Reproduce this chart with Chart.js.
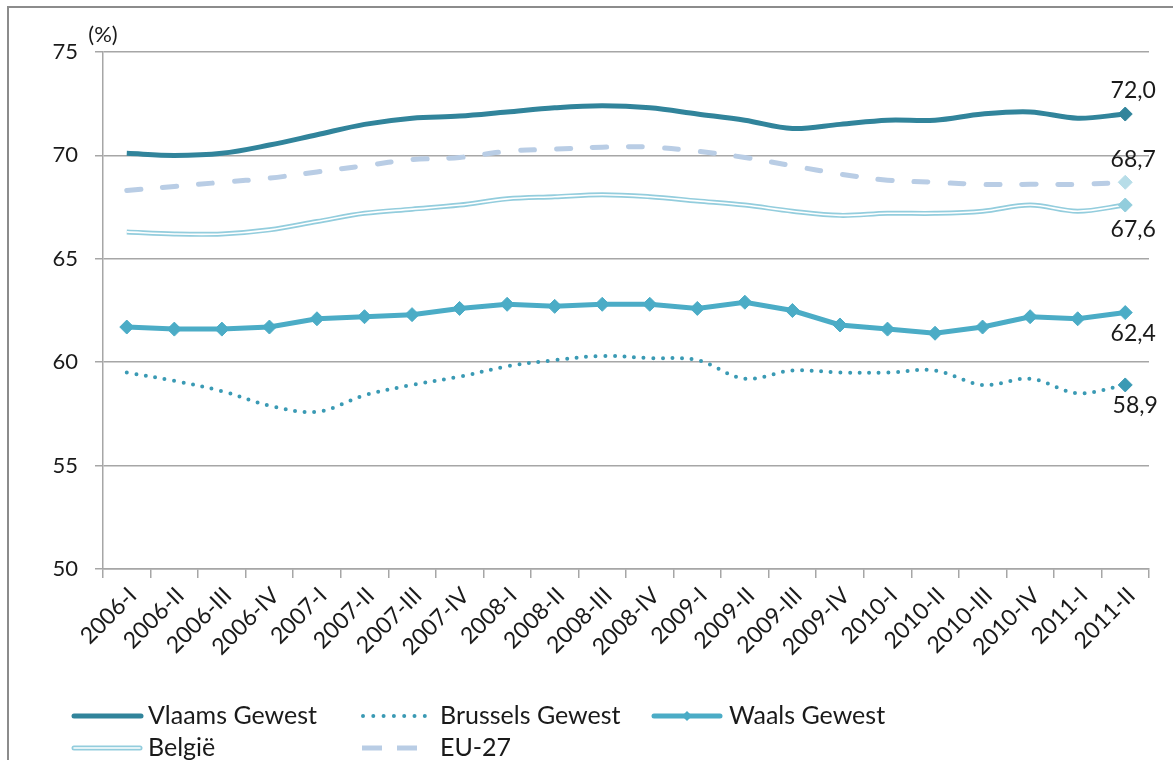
<!DOCTYPE html>
<html><head><meta charset="utf-8">
<script src="https://cdn.jsdelivr.net/npm/chart.js@4"></script>
<style>
html,body{margin:0;padding:0;background:#fff;}
#wrap{position:relative;width:1173px;height:760px;overflow:hidden;font-family:Lato,'Open Sans',sans-serif;background:#fff;}
#frame{position:absolute;left:7px;top:6px;width:1400px;height:900px;border-left:2px solid #8c8c8c;border-top:2px solid #8c8c8c;}
#c{position:absolute;left:0;top:0;}
.lt{position:absolute;font-size:25px;line-height:25px;color:#1a1a1a;white-space:nowrap;}
.ls{position:absolute;}
</style></head>
<body>
<div id="wrap">
  <div id="frame"></div>
  <canvas id="c" width="1173" height="760"></canvas>
  <div id="legend"></div>
</div>
<script>
const categories = ['2006-I','2006-II','2006-III','2006-IV','2007-I','2007-II','2007-III','2007-IV','2008-I','2008-II','2008-III','2008-IV','2009-I','2009-II','2009-III','2009-IV','2010-I','2010-II','2010-III','2010-IV','2011-I','2011-II'];
const vlaamsGewest   = [70.1,70.0,70.1,70.5,71.0,71.5,71.8,71.9,72.1,72.3,72.4,72.3,72.0,71.7,71.3,71.5,71.7,71.7,72.0,72.1,71.8,72.0];
const brusselsGewest = [59.5,59.1,58.6,57.9,57.6,58.4,58.9,59.3,59.8,60.1,60.3,60.2,60.1,59.2,59.6,59.5,59.5,59.6,58.9,59.2,58.5,58.9];
const waalsGewest    = [61.7,61.6,61.6,61.7,62.1,62.2,62.3,62.6,62.8,62.7,62.8,62.8,62.6,62.9,62.5,61.8,61.6,61.4,61.7,62.2,62.1,62.4];
const belgie         = [66.3,66.2,66.2,66.4,66.8,67.2,67.4,67.6,67.9,68.0,68.1,68.0,67.8,67.6,67.3,67.1,67.2,67.2,67.3,67.6,67.3,67.6];
const eu27           = [68.3,68.5,68.7,68.9,69.2,69.5,69.8,69.9,70.2,70.3,70.4,70.4,70.2,69.9,69.5,69.1,68.8,68.7,68.6,68.6,68.6,68.7];
const seriesNames = ['Vlaams Gewest','Brussels Gewest','Waals Gewest','België','EU-27'];
const yMin = 50, yMax = 75, yStep = 5;
const unitLabel = '(%)';

const FONT = "Lato, 'Open Sans', sans-serif";
const C = {vl:'#31849B', br:'#3A9AB4', wa:'#4BACC6', be:'#93CDDD', beM:'#92CDDC', eu:'#B9CDE5', euM:'#B7DDE8', grid:'#A6A6A6', text:'#1a1a1a'};

const lastOnly = r => (ctx => ctx.dataIndex === ctx.dataset.data.length - 1 ? r : 0);

const datasets = [
  {label:seriesNames[0], data:vlaamsGewest, borderColor:C.vl, backgroundColor:C.vl, borderWidth:5, tension:0.35,
   pointStyle:'rectRot', pointRadius:lastOnly(7), pointBackgroundColor:C.vl, pointBorderColor:C.vl, pointBorderWidth:1, order:1},
  {label:seriesNames[1], data:brusselsGewest, borderColor:C.br, backgroundColor:C.br, borderWidth:4, borderDash:[0,9.6], borderCapStyle:'round', tension:0.35,
   pointStyle:'rectRot', pointRadius:lastOnly(7), pointBackgroundColor:C.br, pointBorderColor:C.br, pointBorderWidth:1, order:1},
  {label:seriesNames[2], data:waalsGewest, borderColor:C.wa, backgroundColor:C.wa, borderWidth:5, tension:0,
   pointStyle:'rectRot', pointRadius:7, pointBackgroundColor:C.wa, pointBorderColor:C.wa, pointBorderWidth:1, order:1},
  {label:seriesNames[3], data:belgie, borderColor:C.be, borderWidth:5, tension:0.35, pointRadius:0, order:3},
  {label:seriesNames[3]+' (inner)', data:belgie, borderColor:'#ffffff', borderWidth:1.6, tension:0.35,
   pointStyle:'rectRot', pointRadius:lastOnly(7), pointBackgroundColor:C.beM, pointBorderColor:C.beM, pointBorderWidth:1, order:2},
  {label:seriesNames[4], data:eu27, borderColor:C.eu, backgroundColor:C.eu, borderWidth:5, borderDash:[14,22], borderCapStyle:'round', tension:0.35,
   pointStyle:'rectRot', pointRadius:lastOnly(7), pointBackgroundColor:C.euM, pointBorderColor:C.euM, pointBorderWidth:1, order:1}
];

const endLabels = {
  id:'endLabels',
  afterDatasetsDraw(chart, args, opts){
    const ctx = chart.ctx;
    ctx.save();
    ctx.font = opts.font; ctx.fillStyle = opts.color;
    ctx.textAlign = 'center'; ctx.textBaseline = 'middle';
    opts.items.forEach(it => {
      const ds = chart.data.datasets[it.dataset];
      const meta = chart.getDatasetMeta(it.dataset);
      const pt = meta.data[meta.data.length - 1];
      const v = ds.data[ds.data.length - 1];
      ctx.fillText(v.toFixed(1).replace('.', ','), pt.x + it.dx, pt.y + it.dy);
    });
    ctx.restore();
  }
};
const unitPlugin = {
  id:'unitLabel',
  afterDraw(chart, args, opts){
    const ctx = chart.ctx, a = chart.chartArea;
    ctx.save();
    ctx.font = opts.font; ctx.fillStyle = opts.color;
    ctx.textAlign = 'center'; ctx.textBaseline = 'middle';
    ctx.fillText(opts.text, a.left, a.top - 17);
    ctx.restore();
  }
};

new Chart(document.getElementById('c'), {
  type:'line',
  data:{labels:categories, datasets:datasets},
  plugins:[endLabels, unitPlugin],
  options:{
    responsive:false, animation:false, events:[],
    layout:{padding:{left:0, right:24, top:52, bottom:0}},
    plugins:{
      legend:{display:false}, tooltip:{enabled:false},
      endLabels:{font:'23px '+FONT, color:C.text, items:[
        {dataset:0, dx:8, dy:-23}, {dataset:5, dx:8, dy:-23}, {dataset:4, dx:8, dy:25},
        {dataset:2, dx:8, dy:21}, {dataset:1, dx:10, dy:21}]},
      unitLabel:{font:'22px '+FONT, color:C.text, text:unitLabel}
    },
    scales:{
      x:{
        type:'category', offset:true,
        afterFit:s => { s.height = 191; },
        grid:{display:true, drawOnChartArea:false, drawTicks:true, tickLength:9, color:C.grid, lineWidth:1.5, offset:true},
        border:{display:true, color:C.grid, width:1.5},
        ticks:{autoSkip:false, maxRotation:45, minRotation:45, padding:4, labelOffset:6, color:C.text, font:{family:FONT, size:23}}
      },
      y:{
        min:yMin, max:yMax,
        afterFit:s => { s.width = 103; },
        grid:{color:C.grid, lineWidth:1.5, tickLength:8, drawTicks:true},
        border:{display:true, color:C.grid, width:1.5},
        ticks:{stepSize:yStep, padding:17, color:C.text, font:{family:FONT, size:22}}
      }
    }
  }
});

// HTML legend built from the series definitions
(function(){
  const L = document.getElementById('legend');
  const svgNS = 'http://www.w3.org/2000/svg';
  function sym(x, y, w, draw){
    const s = document.createElementNS(svgNS,'svg');
    s.setAttribute('class','ls'); s.setAttribute('width', w+10); s.setAttribute('height', 20);
    s.style.left = (x-5)+'px'; s.style.top = (y-10)+'px';
    s.innerHTML = draw(5, 10, w);
    L.appendChild(s);
  }
  function txt(x, baseline, t){
    const d = document.createElement('div');
    d.className = 'lt'; d.textContent = t;
    d.style.left = x+'px'; d.style.top = (baseline-22)+'px';
    L.appendChild(d);
  }
  const ln = (x,y,w,col,sw,extra) => `<line x1="${x}" y1="${y}" x2="${x+w}" y2="${y}" stroke="${col}" stroke-width="${sw}" ${extra||''}/>`;
  // row 1
  sym(74, 716, 67, (x,y,w) => ln(x,y,w,C.vl,5,'stroke-linecap="round"'));
  txt(148, 724, seriesNames[0]);
  sym(363, 716, 62, (x,y,w) => ln(x,y,w,C.br,4,'stroke-linecap="round" stroke-dasharray="0 10.3"'));
  txt(440, 724, seriesNames[1]);
  sym(654, 716, 66, (x,y,w) => ln(x,y,w,C.wa,5,'stroke-linecap="round"') +
      `<path d="M${x+w/2} ${y-5} L${x+w/2+5} ${y} L${x+w/2} ${y+5} L${x+w/2-5} ${y} Z" fill="${C.wa}"/>`);
  txt(729, 724, seriesNames[2]);
  // row 2
  sym(74, 748, 66, (x,y,w) => ln(x,y,w,C.be,5,'stroke-linecap="round"') + ln(x,y,w,'#ffffff',1.6,'stroke-linecap="round"'));
  txt(148, 756, seriesNames[3]);
  sym(362, 748, 55, (x,y,w) => ln(x,y,w,C.eu,5,'stroke-dasharray="20 15"'));
  txt(440, 756, seriesNames[4]);
})();
</script>
</body></html>
